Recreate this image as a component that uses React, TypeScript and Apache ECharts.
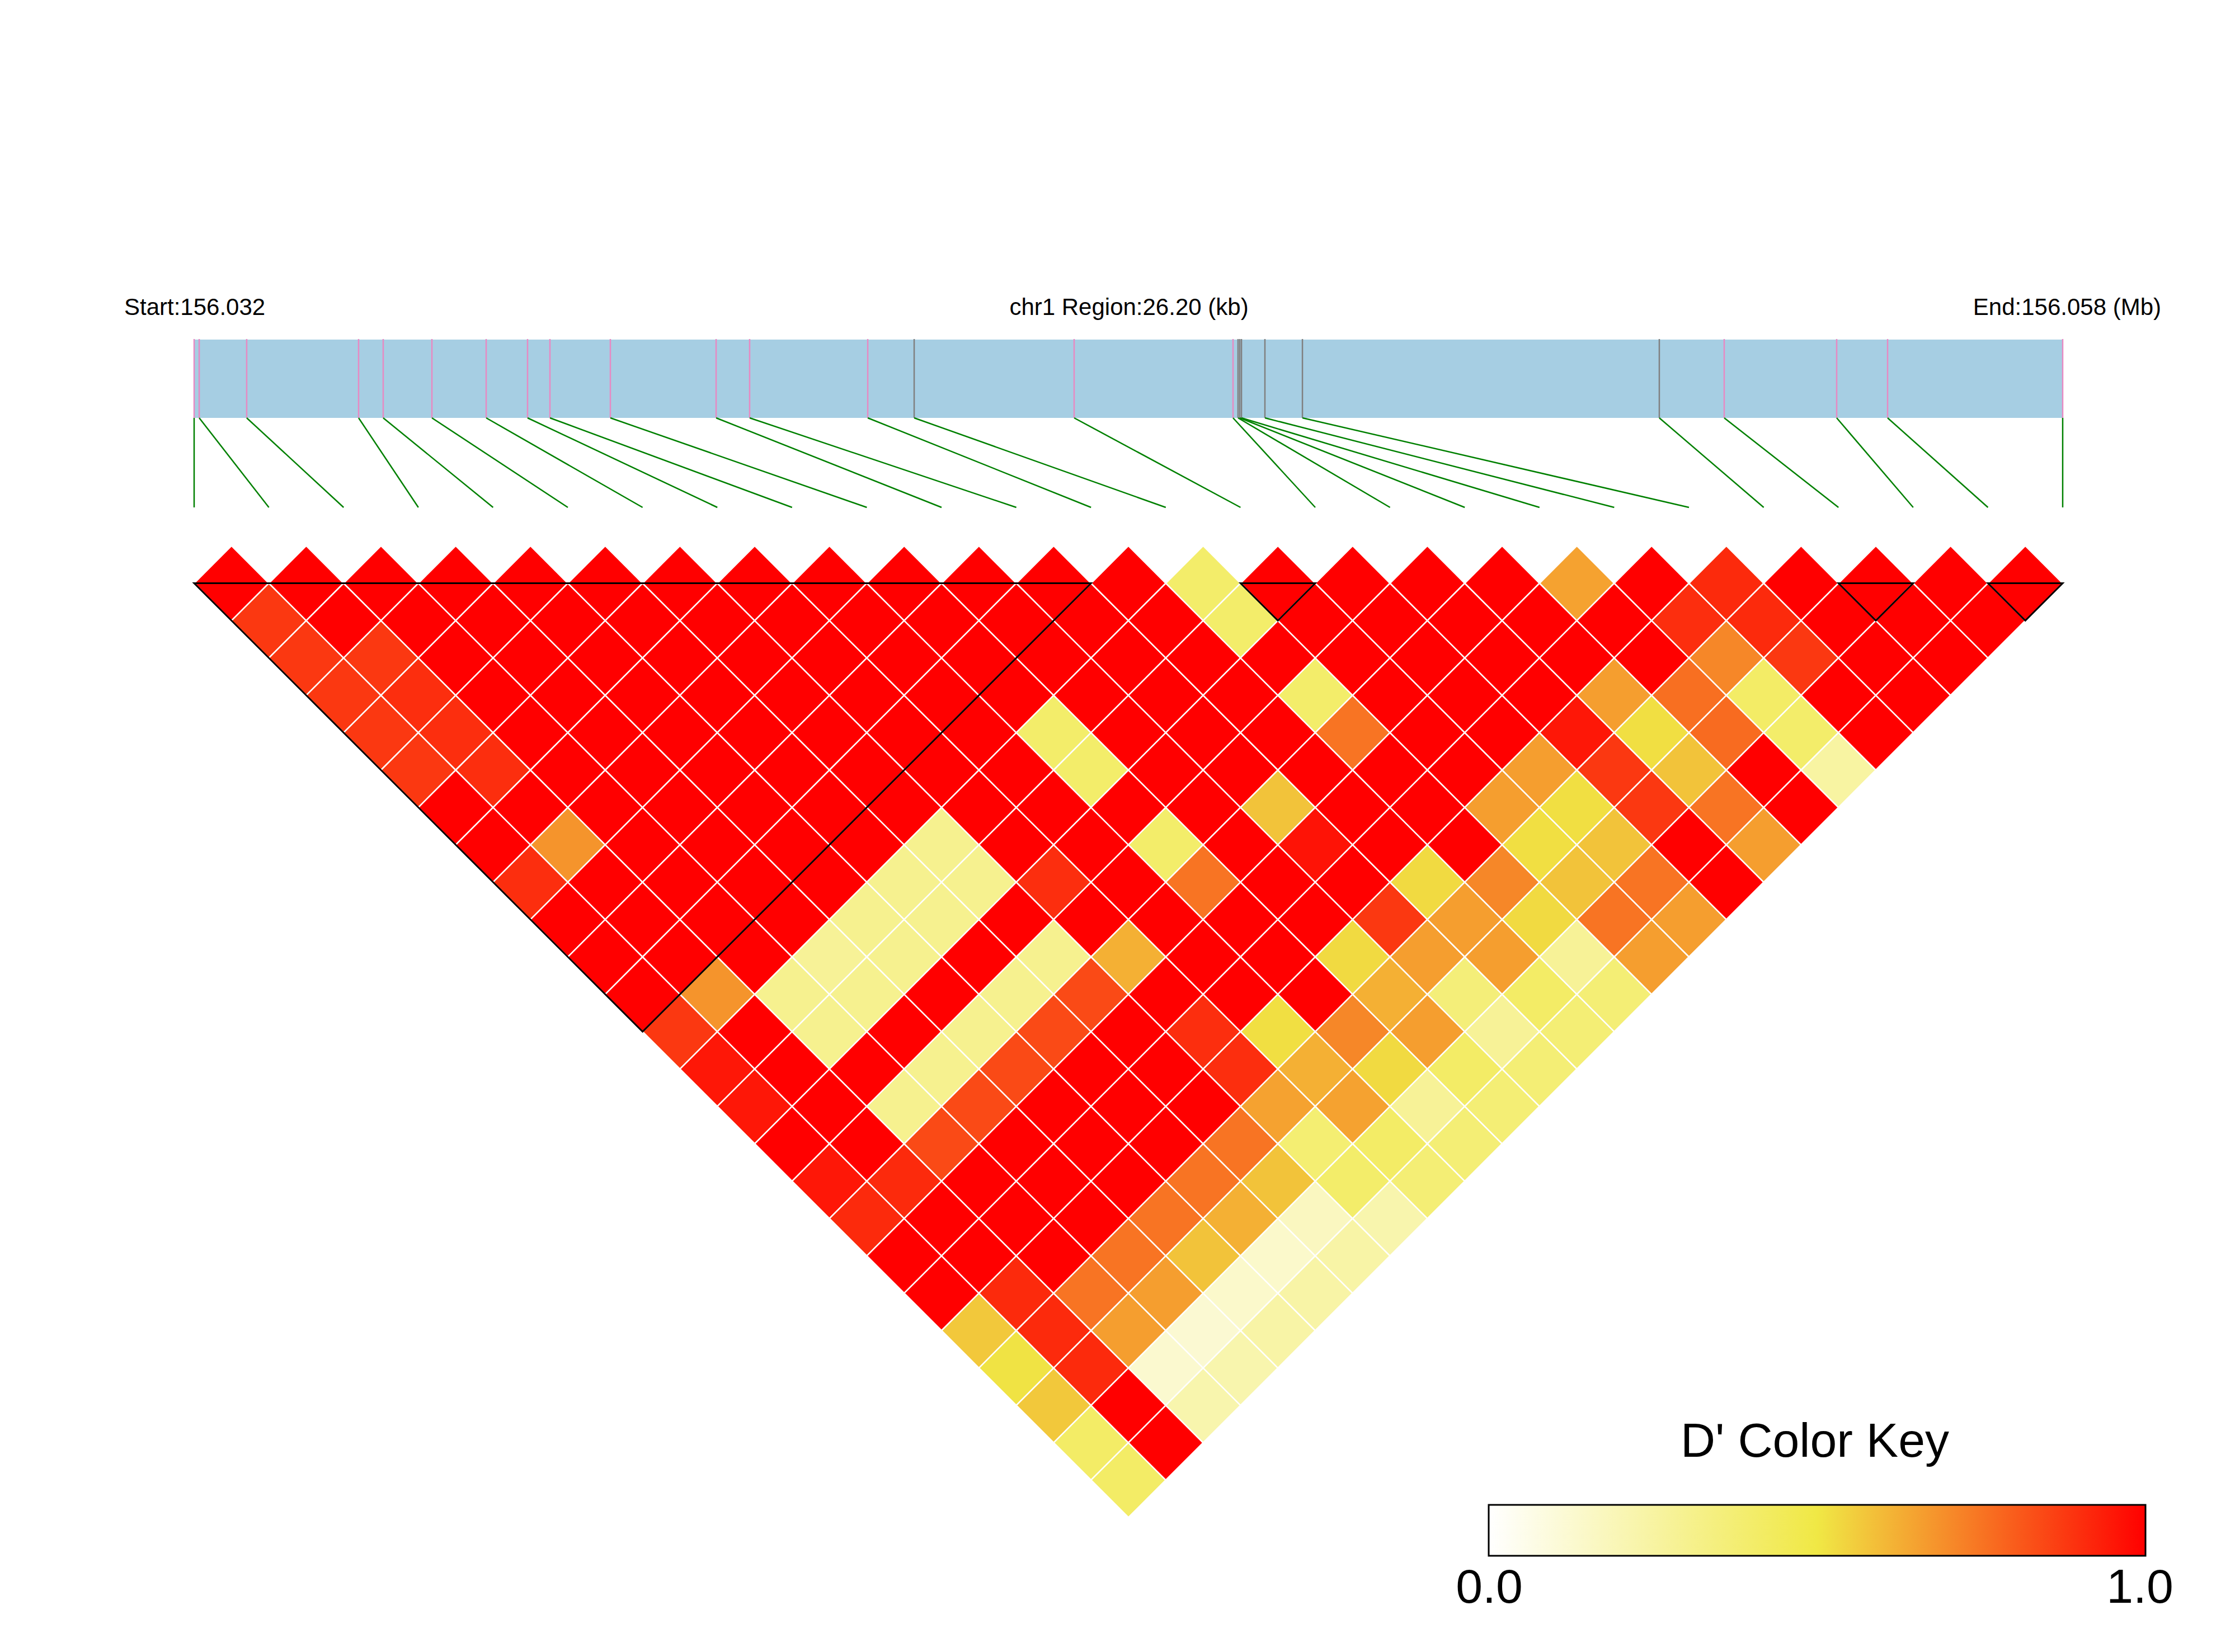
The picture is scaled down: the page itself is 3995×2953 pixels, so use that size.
import React, { useEffect, useRef } from 'react';
import * as echarts from 'echarts';

// ---------------- data ----------------
const REGION_CHR = 'chr1';
const REGION_START = 156031800; // bp
const REGION_END = 156058000; // bp  (26.20 kb)

// SNP physical positions, bp offset from region start
const snpOffsets = [
  0, 71, 737, 2306, 2651, 3334, 4095, 4675, 4989, 5836, 7319, 7789, 9445,
  10096, 12339, 14567, 14637, 14661, 14685, 15014, 15540, 20544, 21454,
  23031, 23745, 26200,
];

// feature class of each SNP in the track (0 / 1)
const snpGroup = [
  0, 0, 0, 0, 0, 0, 0, 0, 0, 0, 0, 0, 0, 1, 0, 0, 1, 1, 1, 1, 1, 1, 0, 0, 0, 0,
];

// haplotype blocks [first SNP, last SNP]
const ldBlocks = [
  [0, 12],
  [14, 15],
  [22, 23],
  [24, 25],
];

// D' values, row i holds pairs (i, i+1) ... (i, 25)
const dPrime = [
  [1, 0.88, 0.88, 0.88, 0.88, 0.88, 1, 1, 0.9, 1, 1, 1, 0.88, 0.95, 0.95, 1, 0.95, 0.91, 1, 1, 0.57, 0.51, 0.57, 0.41, 0.41],
  [1, 1, 0.88, 0.9, 0.9, 0.9, 1, 0.68, 1, 1, 1, 0.68, 1, 1, 1, 1, 0.91, 1, 1, 0.91, 0.91, 0.91, 1, 1],
  [1, 1, 1, 1, 1, 1, 1, 1, 1, 1, 1, 0.3, 0.3, 1, 0.3, 0.84, 1, 1, 1, 0.75, 0.66, 0.13, 0.22],
  [1, 1, 1, 1, 1, 1, 1, 1, 1, 1, 0.28, 0.3, 1, 0.3, 0.84, 1, 1, 1, 0.75, 0.66, 0.12, 0.22],
  [1, 1, 1, 1, 1, 1, 1, 1, 1, 0.3, 0.3, 1, 0.3, 0.84, 1, 1, 1, 0.75, 0.58, 0.14, 0.24],
  [1, 1, 1, 1, 1, 1, 1, 1, 0.3, 0.3, 1, 0.3, 0.84, 1, 1, 1, 0.75, 0.62, 0.14, 0.24],
  [1, 1, 1, 1, 1, 1, 1, 0.3, 0.3, 1, 0.3, 0.84, 1, 1, 1, 0.75, 0.58, 0.17, 0.24],
  [1, 1, 1, 1, 1, 1, 1, 1, 0.9, 1, 0.62, 1, 0.9, 0.9, 0.65, 0.38, 0.4, 0.22],
  [1, 1, 1, 1, 1, 1, 1, 1, 1, 1, 1, 1, 0.52, 0.62, 0.65, 0.41, 0.37],
  [1, 1, 1, 1, 0.4, 0.4, 1, 0.4, 0.75, 1, 1, 1, 0.71, 0.53, 0.28, 0.37],
  [1, 1, 1, 1, 1, 1, 1, 1, 1, 1, 0.53, 0.62, 0.66, 0.41, 0.37],
  [1, 1, 1, 1, 1, 1, 0.58, 0.96, 1, 0.88, 0.66, 0.36, 0.28, 0.37],
  [1, 1, 1, 1, 1, 1, 1, 1, 0.53, 0.66, 0.66, 0.41, 0.37],
  [0.4, 0.4, 1, 0.4, 0.75, 1, 1, 1, 0.71, 0.53, 0.28, 0.37],
  [1, 1, 1, 1, 1, 1, 0.66, 0.52, 0.58, 0.75, 0.66],
  [1, 1, 1, 1, 1, 0.66, 0.52, 0.58, 0.75, 0.66],
  [1, 1, 1, 1, 0.95, 0.88, 0.88, 1, 1],
  [1, 1, 1, 0.66, 0.52, 0.58, 0.75, 0.66],
  [0.65, 1, 1, 0.76, 0.77, 1, 1],
  [1, 0.9, 0.71, 0.41, 0.4, 0.25],
  [0.91, 0.91, 0.88, 1, 1],
  [1, 1, 1, 1],
  [1, 1, 1],
  [1, 1],
  [1],
];

const keyTicks = ['0.0', '1.0'];

// ---------------- styles ----------------
const FONT = "'Liberation Sans', Arial, Helvetica, sans-serif";
const LD_COLORS = ['#FFFFFF', '#F0E845', '#FF0000'];
const GROUP_COLORS = ['#E78AC3', '#808080'];
const TRACK_COLOR = '#A6CEE3';
const LINK_COLOR = '#008000';
const TRACK_MAX = 300 / 140; // bar occupies 0..1, connectors 1..TRACK_MAX

const N = snpOffsets.length;

function ldColor(v: number): string {
  return echarts.color.lerp(Math.max(0, Math.min(1, v)), LD_COLORS) as string;
}

function buildOption() {
  const cells: number[][] = [];
  dPrime.forEach((row, i) => {
    row.forEach((v, k) => {
      cells.push([i, i + 1 + k, v]);
    });
  });
  const snps = snpOffsets.map((off, k) => [REGION_START + off, k, snpGroup[k]]);
  const span = REGION_END - REGION_START;

  const keyX = 2661;
  const keyY = 2690;
  const keyW = 1174;
  const keyH = 91;

  return {
    animation: false,
    backgroundColor: '#ffffff',
    grid: [
      { left: 347, right: 308, top: 607, height: 300 },
      { left: 347, right: 308, top: 975.7, height: 1736.8 },
    ],
    xAxis: [
      { gridIndex: 0, type: 'value', min: REGION_START, max: REGION_END, show: false },
      { gridIndex: 1, type: 'value', min: 0, max: N - 1, show: false },
    ],
    yAxis: [
      { gridIndex: 0, type: 'value', min: 0, max: TRACK_MAX, inverse: true, show: false },
      { gridIndex: 1, type: 'value', min: -1, max: N - 1, inverse: true, show: false },
    ],
    series: [
      {
        type: 'custom',
        name: 'region',
        xAxisIndex: 0,
        yAxisIndex: 0,
        clip: false,
        silent: true,
        data: [[REGION_START, REGION_END]],
        renderItem: (params: any, api: any) => {
          const a = api.coord([api.value(0), 0]);
          const b = api.coord([api.value(1), 1]);
          return {
            type: 'rect',
            shape: { x: a[0], y: a[1], width: b[0] - a[0], height: b[1] - a[1] },
            style: { fill: TRACK_COLOR },
          };
        },
      },
      {
        type: 'custom',
        name: 'snps',
        xAxisIndex: 0,
        yAxisIndex: 0,
        clip: false,
        silent: true,
        data: snps,
        renderItem: (params: any, api: any) => {
          const pos = api.value(0);
          const k = api.value(1);
          const g = api.value(2);
          const t = api.coord([pos, 0]);
          const b = api.coord([pos, 1]);
          const e = api.coord([REGION_START + (k * span) / (N - 1), TRACK_MAX]);
          return {
            type: 'group',
            children: [
              {
                type: 'line',
                shape: { x1: t[0], y1: t[1] - 1, x2: b[0], y2: b[1] },
                style: { stroke: GROUP_COLORS[g], lineWidth: 2.5 },
              },
              {
                type: 'line',
                shape: { x1: b[0], y1: b[1], x2: e[0], y2: e[1] },
                style: { stroke: LINK_COLOR, lineWidth: 2.5 },
              },
            ],
          };
        },
      },
      {
        type: 'custom',
        name: 'ld',
        xAxisIndex: 1,
        yAxisIndex: 1,
        clip: false,
        silent: true,
        data: cells,
        renderItem: (params: any, api: any) => {
          const i = api.value(0);
          const j = api.value(1);
          const v = api.value(2);
          const cx = (i + j) / 2;
          const cy = j - i - 1;
          const pts = [
            [cx - 0.5, cy],
            [cx, cy - 1],
            [cx + 0.5, cy],
            [cx, cy + 1],
          ].map((p) => api.coord(p));
          return {
            type: 'polygon',
            shape: { points: pts },
            style: { fill: ldColor(v), stroke: '#FFFFFF', lineWidth: 2.5 },
          };
        },
      },
      {
        type: 'custom',
        name: 'blocks',
        xAxisIndex: 1,
        yAxisIndex: 1,
        clip: false,
        silent: true,
        z: 5,
        data: ldBlocks,
        renderItem: (params: any, api: any) => {
          const a = api.value(0);
          const b = api.value(1);
          const pts = [
            [a, 0],
            [b, 0],
            [(a + b) / 2, b - a],
          ].map((p) => api.coord(p));
          return {
            type: 'polygon',
            shape: { points: pts },
            style: { fill: 'none', stroke: '#000000', lineWidth: 3, lineJoin: 'miter' },
          };
        },
      },
    ],
    graphic: [
      {
        type: 'text',
        x: 222,
        y: 548,
        style: {
          text: 'Start:' + (REGION_START / 1e6).toFixed(3),
          fontSize: 42,
          fontFamily: FONT,
          fill: '#000',
          textAlign: 'left',
          align: 'left',
          textVerticalAlign: 'middle',
          verticalAlign: 'middle',
        },
      },
      {
        type: 'text',
        x: 2018,
        y: 548,
        style: {
          text: REGION_CHR + ' Region:' + ((REGION_END - REGION_START) / 1000).toFixed(2) + ' (kb)',
          fontSize: 42,
          fontFamily: FONT,
          fill: '#000',
          textAlign: 'center',
          align: 'center',
          textVerticalAlign: 'middle',
          verticalAlign: 'middle',
        },
      },
      {
        type: 'text',
        x: 3863,
        y: 548,
        style: {
          text: 'End:' + (REGION_END / 1e6).toFixed(3) + ' (Mb)',
          fontSize: 42,
          fontFamily: FONT,
          fill: '#000',
          textAlign: 'right',
          align: 'right',
          textVerticalAlign: 'middle',
          verticalAlign: 'middle',
        },
      },
      {
        type: 'text',
        x: 3244,
        y: 2574,
        style: {
          text: "D' Color Key",
          fontSize: 86,
          fontFamily: FONT,
          fill: '#000',
          textAlign: 'center',
          align: 'center',
          textVerticalAlign: 'middle',
          verticalAlign: 'middle',
        },
      },
      {
        type: 'rect',
        shape: { x: keyX, y: keyY, width: keyW, height: keyH },
        style: {
          fill: new echarts.graphic.LinearGradient(0, 0, 1, 0, [
            { offset: 0, color: LD_COLORS[0] },
            { offset: 0.5, color: LD_COLORS[1] },
            { offset: 1, color: LD_COLORS[2] },
          ]),
          stroke: '#000',
          lineWidth: 3,
        },
      },
      {
        type: 'text',
        x: keyX + 1,
        y: 2835,
        style: {
          text: keyTicks[0],
          fontSize: 86,
          fontFamily: FONT,
          fill: '#000',
          textAlign: 'center',
          align: 'center',
          textVerticalAlign: 'middle',
          verticalAlign: 'middle',
        },
      },
      {
        type: 'text',
        x: keyX + keyW - 10,
        y: 2835,
        style: {
          text: keyTicks[1],
          fontSize: 86,
          fontFamily: FONT,
          fill: '#000',
          textAlign: 'center',
          align: 'center',
          textVerticalAlign: 'middle',
          verticalAlign: 'middle',
        },
      },
    ],
  };
}

export default function App() {
  const ref = useRef<HTMLDivElement>(null);
  useEffect(() => {
    if (!ref.current) return;
    const chart = echarts.init(ref.current, undefined, { renderer: 'svg' });
    chart.setOption(buildOption() as any);
    return () => {
      chart.dispose();
    };
  }, []);
  return (
    <div
      ref={ref}
      style={{ position: 'fixed', left: 0, top: 0, width: 3995, height: 2953, background: '#fff' }}
    />
  );
}
